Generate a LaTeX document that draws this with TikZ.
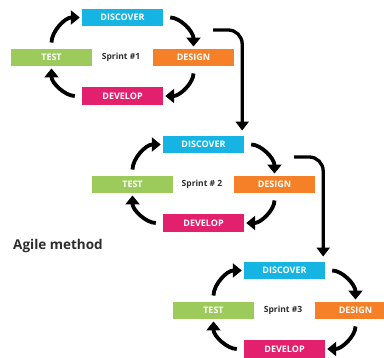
\documentclass[tikz,border=0pt]{standalone}
\usepackage{fontspec}
\setmainfont{Open Sans}
\usetikzlibrary{arrows.meta}

\definecolor{discoverblue}{RGB}{22,180,226}
\definecolor{designorange}{RGB}{245,128,40}
\definecolor{developpink}{RGB}{226,32,110}
\definecolor{testgreen}{RGB}{156,203,92}
\definecolor{labelgray}{RGB}{45,45,45}

\tikzset{
  stage/.style={minimum width=81pt, minimum height=17.5pt, inner sep=0pt,
    text=white, font=\bfseries\fontsize{9}{10}\selectfont},
  cyc/.style={line width=3.8pt, -{Triangle[length=9pt,width=14pt]},
    shorten <=6pt, shorten >=2pt},
  link/.style={line width=3.3pt, -{Triangle[length=9pt,width=13pt]},
    rounded corners=14pt},
}

\begin{document}
\begin{tikzpicture}[x=1pt, y=1pt]
\useasboundingbox (0,0) rectangle (384,-358);

% one sprint cycle per step
\foreach \i/\dx/\dy/\lab in {1/0/0/{\#1}, 2/81/-127/{\# 2}, 3/162/-253/{\#3}}{
  \begin{scope}[shift={(\dx,\dy)}]
    \node[stage, fill=discoverblue] (disc\i) at (122.5,-17.5) {DISCOVER};
    \node[stage, fill=testgreen] (test\i) at (51.5,-57.5) {TEST};
    \node[stage, fill=designorange] (design\i) at (193.5,-57.5) {DESIGN};
    \node[stage, fill=developpink] (dev\i) at (122.5,-96) {DEVELOP};
    \node[text=labelgray, font=\bfseries\fontsize{8.5}{10}\selectfont] (sprint\i) at (121,-57) {Sprint \lab};
    \coordinate (out\i) at (213,-30);

    % cycle arrows
    \draw[cyc] (test\i.north) to[out=90, in=180] (disc\i.west);
    \draw[cyc, shorten <=7pt] (disc\i.east) to[out=0, in=90] (design\i.north);
    \draw[cyc, shorten <=7pt] (design\i.south) to[out=-90, in=0] (dev\i.east);
    \draw[cyc, shorten <=7pt] (dev\i.west) to[out=180, in=-90] (test\i.south);
  \end{scope}
}

% from one sprint to the next
\draw[link] (out1) -| ([xshift=-2pt, yshift=5pt]disc2.north east);
\draw[link] (out2) -| ([xshift=-2pt, yshift=5pt]disc3.north east);

\node[text=labelgray, font=\bfseries\fontsize{13.5}{15}\selectfont, anchor=west, inner sep=0pt] (title) at (13,-246) {Agile method};

\end{tikzpicture}
\end{document}
